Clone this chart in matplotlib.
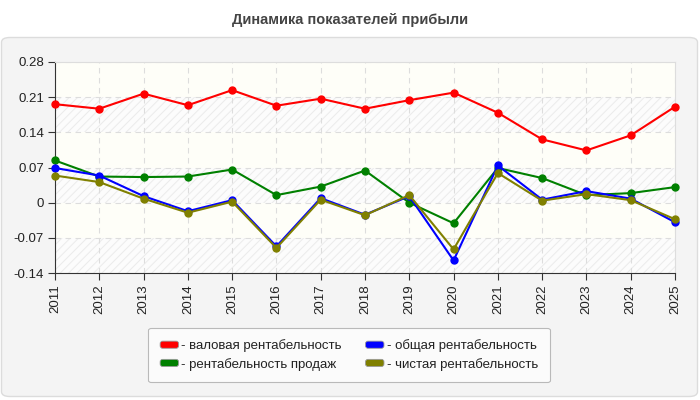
import matplotlib
matplotlib.use("Agg")
import matplotlib.pyplot as plt
from matplotlib.patches import FancyBboxPatch, Patch
from matplotlib.legend_handler import HandlerPatch

plt.rcParams['font.family'] = ['Liberation Sans', 'DejaVu Sans']
plt.rcParams['hatch.color'] = '#ebebeb'
plt.rcParams['hatch.linewidth'] = 0.7

years = list(range(2011, 2026))
gross = [0.196, 0.187, 0.217, 0.194, 0.224, 0.193, 0.207, 0.187, 0.204, 0.219, 0.179, 0.126, 0.104, 0.134, 0.191]
sales = [0.084, 0.052, 0.051, 0.052, 0.066, 0.015, 0.032, 0.064, 0.000, -0.041, 0.069, 0.049, 0.015, 0.019, 0.031]
total = [0.069, 0.054, 0.013, -0.017, 0.005, -0.087, 0.009, -0.024, 0.013, -0.115, 0.074, 0.006, 0.023, 0.008, -0.039]
net = [0.054, 0.041, 0.008, -0.020, 0.002, -0.090, 0.006, -0.025, 0.015, -0.093, 0.059, 0.004, 0.017, 0.005, -0.033]

yticks = [-0.14, -0.07, 0, 0.07, 0.14, 0.21, 0.28]
ytick_labels = ['-0.14', '-0.07', '0', '0.07', '0.14', '0.21', '0.28']

series = [
    ('- валовая рентабельность', gross, '#ff0000'),
    ('- рентабельность продаж', sales, '#008000'),
    ('- общая рентабельность', total, '#0000ff'),
    ('- чистая рентабельность', net, '#808000'),
]

fig = plt.figure(figsize=(7, 4), dpi=100)
fig.patch.set_facecolor('white')

panel = FancyBboxPatch((1.5 / 700, 3.5 / 400), 696 / 700, 359 / 400,
                       boxstyle='round,pad=0,rounding_size=0.012',
                       transform=fig.transFigure, facecolor='#f4f4f4',
                       edgecolor='#dcdcdc', linewidth=1, zorder=-5)
fig.patches.append(panel)

fig.text(0.5, 1 - 20 / 400, 'Динамика показателей прибыли', ha='center', va='center',
         fontsize=10.5, fontweight='bold', color='#444444')

ax = fig.add_axes([55 / 700, 1 - 273 / 400, 620 / 700, 211 / 400])
ax.set_zorder(2)
ax.set_facecolor('#fefef8')
# alternating hatched bands between grid lines
for i in range(0, len(yticks) - 1, 2):
    ax.axhspan(yticks[i], yticks[i + 1], facecolor='#fcfcfc', edgecolor='#ebebeb',
               hatch='////', linewidth=0, zorder=0)

for label, vals, color in series:
    ax.plot(years, vals, color=color, lw=1.5, marker='o', markersize=5, label=label,
            zorder=3, clip_on=False)

ax.set_xlim(2011, 2025)
ax.set_ylim(-0.14, 0.28)
ax.set_xticks(years)
ax.set_xticklabels([str(y) for y in years], rotation=90, fontsize=9.5, color='#222222')
ax.set_yticks(yticks)
ax.set_yticklabels(ytick_labels, fontsize=9.5, color='#222222')
ax.grid(True, color='#dddddd', linestyle=(0, (5, 4)), linewidth=0.8, zorder=1)
ax.set_axisbelow(True)
for s in ['top', 'right']:
    ax.spines[s].set_color('#dddddd')
for s in ['left', 'bottom']:
    ax.spines[s].set_color('#333333')
ax.tick_params(axis='both', direction='out', length=5, color='#333333', pad=3)


class RoundBoxHandler(HandlerPatch):
    def create_artists(self, legend, orig_handle, xdescent, ydescent, width, height,
                       fontsize, trans):
        h = height * 0.85
        p = FancyBboxPatch((-xdescent, -ydescent + (height - h) / 2), width, h,
                           boxstyle='round,pad=0,rounding_size=%f' % (h * 0.35),
                           facecolor=orig_handle.get_facecolor(),
                           edgecolor='#999999', linewidth=0.6, transform=trans)
        return [p]


handles = [Patch(facecolor=c) for _, _, c in series]
labels = [l for l, _, _ in series]
leg = fig.legend(handles, labels, ncol=2,
                 loc='center', bbox_to_anchor=(349 / 700, 1 - 355 / 400),
                 fontsize=9.5, frameon=True, fancybox=True, handlelength=1.4,
                 handleheight=0.6, handletextpad=0.2, columnspacing=1.8,
                 labelspacing=0.4, borderpad=0.9, borderaxespad=0,
                 handler_map={Patch: RoundBoxHandler()})
leg.set_zorder(3)
frame = leg.get_frame()
frame.set_facecolor('#fdfdfd')
frame.set_edgecolor('#aaaaaa')
frame.set_linewidth(0.8)
for t in leg.get_texts():
    t.set_color('#222222')

fig.savefig('out.png', dpi=100)
